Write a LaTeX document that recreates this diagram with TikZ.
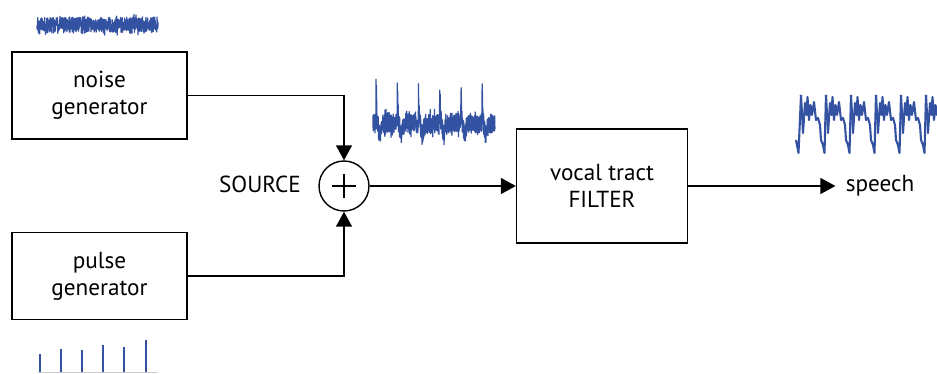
\documentclass[tikz,border=0pt]{standalone}
\usepackage{fontspec}
\setmainfont{PT Sans}
\usetikzlibrary{arrows.meta}
\definecolor{wavecol}{RGB}{52,82,162}
\tikzset{
  genbox/.style={draw,line width=0.8pt,minimum width=3.5cm,minimum height=1.74cm,align=center},
  flow/.style={line width=0.8pt,-{Triangle[length=0.3cm,width=0.32cm]}},
  wave/.style={wavecol,line width=0.7pt,line join=round}
}
\begin{document}
\begin{tikzpicture}[x=0.02cm,y=-0.02cm,font=\fontsize{13.2}{15.4}\selectfont]
\useasboundingbox (0,0) rectangle (937,374);
\pgfmathsetseed{11}
% blocks
\node[genbox] (noise) at (99.5,95.5) {noise\\generator};
\node[genbox] (pulse) at (99.5,276) {pulse\\generator};
\node[draw,circle,line width=0.8pt,minimum size=1cm,inner sep=0pt] (sum) at (344,186) {};
\draw[line width=0.8pt] ([xshift=-0.24cm]sum.center) -- ([xshift=0.24cm]sum.center);
\draw[line width=0.8pt] ([yshift=-0.24cm]sum.center) -- ([yshift=0.24cm]sum.center);
\node (source) at (260,184) {SOURCE};
\node[genbox,minimum width=3.42cm,minimum height=2.28cm] (filter) at (602,186) {vocal tract\\FILTER};
\node[inner xsep=0.2cm] (speech) at (880,186) {speech};
% connectors
\draw[flow] (noise.east) -| (sum.north);
\draw[flow] (pulse.east) -| (sum.south);
\draw[flow] (sum.east) -- (filter.west);
\draw[flow] (filter.east) -- (speech.west);
% noise signal
\draw[wave] plot[domain=37:158,samples=700] (\x,{25+8*rand+6*rand*rand*rand});
% pulse train
\draw[black!20,line width=0.6pt] (38,372.5) -- (158,372.5);
\foreach \px/\py in {40/354,61/349,82/350,103/345,124/347,146/340}
  \draw[wave,line width=1pt] (\px,372) -- (\px,\py);
% source signal
\draw[wave] plot[domain=373:495,samples=1000]
  (\x,{123+10*rand+8*rand*rand*rand
   -(34+8*rand)*exp(-(mod(\x-376+21.2,21.2))^2/0.6)
   +12*exp(-(mod(\x-376+21.2,21.2)-4)^2/3)});
% speech signal
\begin{scope}
\clip (790,80) rectangle (937,160);
\draw[wave,line width=1.2pt] (796,140) -- (798.5,153) -- (801,95);
\foreach \k in {0,...,5}
  \draw[wave,line width=1.2pt,shift={(25*\k,0)}] (801,95) -- (803,133) -- (805,103) -- (806.5,115)
    -- (807.5,97) -- (809,120) -- (810.5,105) -- (812,115) -- (814,102) -- (816,120)
    -- (818,118) -- (820,125) -- (821,140) -- (823,145) -- (824.5,153) -- (826,95);
\end{scope}
\end{tikzpicture}
\end{document}
